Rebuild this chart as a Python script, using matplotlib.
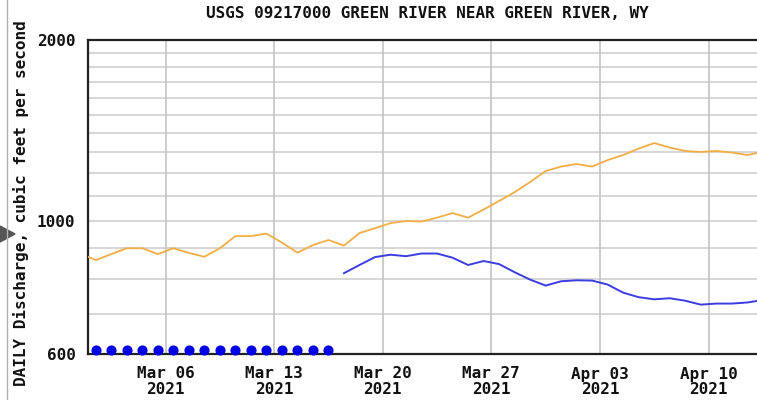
import numpy as np
import matplotlib
matplotlib.use("Agg")
import matplotlib.pyplot as plt
import matplotlib.dates as mdates
from matplotlib.ticker import FixedLocator, NullFormatter
from matplotlib.patches import Polygon
from matplotlib.lines import Line2D

# ---- data -------------------------------------------------------------
title = "USGS 09217000 GREEN RIVER NEAR GREEN RIVER, WY"
y_label = "DAILY Discharge, cubic feet per second"

# median daily statistic (Feb 28 .. Apr 13), plotted at noon
median_start = "2021-02-28"
median_flow = [882, 860, 880, 900, 900, 880, 900, 884, 871, 900,
               943, 943, 952, 920, 885, 911, 929, 909, 954, 972,
               991, 999, 997, 1012, 1030, 1012, 1044, 1079, 1116, 1160,
               1210, 1231, 1243, 1231, 1262, 1287, 1319, 1347, 1324, 1307,
               1302, 1307, 1299, 1287, 1302]

# daily mean discharge (Mar 17 .. Apr 13)
daily_start = "2021-03-17"
daily_flow = [818, 844, 870, 878, 873, 882, 882, 868, 844, 857,
              847, 821, 798, 780, 793, 796, 795, 783, 759, 746,
              740, 743, 736, 725, 728, 728, 731, 738]

# ice-affected days (Mar 1 .. Mar 16), shown along the bottom of the graph
ice_start = "2021-03-01"
ice_level = [609] * 16

x_ticks = ["2021-03-06", "2021-03-13", "2021-03-20", "2021-03-27",
           "2021-04-03", "2021-04-10"]
x_tick_labels = ["Mar 06\n2021", "Mar 13\n2021", "Mar 20\n2021",
                 "Mar 27\n2021", "Apr 03\n2021", "Apr 10\n2021"]
y_labeled = [600, 1000, 2000]
y_minor_grid = [700, 800, 900, 1100, 1200, 1300, 1400, 1500, 1600, 1700,
                1800, 1900]
x_range = ["2021-03-01", "2021-04-13T03:00"]


def days_from(start, n):
    base = np.datetime64(start + "T12:00")
    return base + np.arange(n) * np.timedelta64(1, "D")


# ---- figure -----------------------------------------------------------
FONT = "DejaVu Sans Mono"
FS = 11.5
fig = plt.figure(figsize=(7.57, 4.00), dpi=100)
ax = fig.add_axes([88 / 757, 46 / 400, 1 - 88 / 757, 314 / 400])

ax.set_yscale("log")
ax.set_ylim(600, 2000)
ax.set_xlim(mdates.date2num(np.datetime64(x_range[0])),
            mdates.date2num(np.datetime64(x_range[1])))

# grid
for v in y_minor_grid + [1000]:
    ax.axhline(v, color="#cfcfcf", lw=1.2, zorder=1)
for t in x_ticks:
    ax.axvline(mdates.date2num(np.datetime64(t)), color="#c4c4c4", lw=1.2,
               zorder=1)

# series
ax.plot(mdates.date2num(days_from(median_start, len(median_flow))),
        median_flow, color="#f2ae45", lw=1.3, zorder=3)
ax.plot(mdates.date2num(days_from(daily_start, len(daily_flow))),
        daily_flow, color="#3c3ce0", lw=1.4, zorder=4)
ax.plot(mdates.date2num(days_from(ice_start, len(ice_level))),
        ice_level, ls="none", marker="o", ms=6.3, color="#0000e6",
        mec="#0000e6", clip_on=False, zorder=5)

# axes styling
ax.yaxis.set_major_locator(FixedLocator(y_labeled))
ax.yaxis.set_minor_locator(FixedLocator([]))
ax.yaxis.set_minor_formatter(NullFormatter())
ax.set_yticklabels([str(v) for v in y_labeled])
ax.set_xticks(mdates.date2num(np.array(x_ticks, dtype="datetime64[m]")))
ax.set_xticklabels(x_tick_labels, linespacing=1.0)
ax.tick_params(axis="both", length=0, labelsize=FS)
ax.tick_params(axis="x", pad=9)
ax.tick_params(axis="y", pad=9)
for lab in ax.get_xticklabels() + ax.get_yticklabels():
    lab.set_fontfamily(FONT)
    lab.set_fontweight("bold")
    lab.set_color("#111111")

for side in ["left", "bottom", "top"]:
    ax.spines[side].set_color("#222222")
    ax.spines[side].set_linewidth(1.6)
ax.spines["right"].set_visible(False)

# titles
fig.text(427 / 757, 1 - 14 / 400, title, ha="center", va="center",
         fontfamily=FONT, fontweight="bold", fontsize=FS, color="#111111")
fig.text(21 / 757, 1 - 203 / 400, y_label, ha="center", va="center",
         rotation=90, fontfamily=FONT, fontweight="bold", fontsize=FS,
         color="#111111")

# page edge marker on the left
fig.add_artist(Line2D([7 / 757, 7 / 757], [0, 1], color="#b0b0b0", lw=1,
                      transform=fig.transFigure))
fig.add_artist(Polygon([[0, 1 - 226 / 400], [15 / 757, 1 - 234 / 400],
                        [0, 1 - 242 / 400]], closed=True, color="#555555",
                       transform=fig.transFigure))

fig.savefig("out.png", dpi=100)
